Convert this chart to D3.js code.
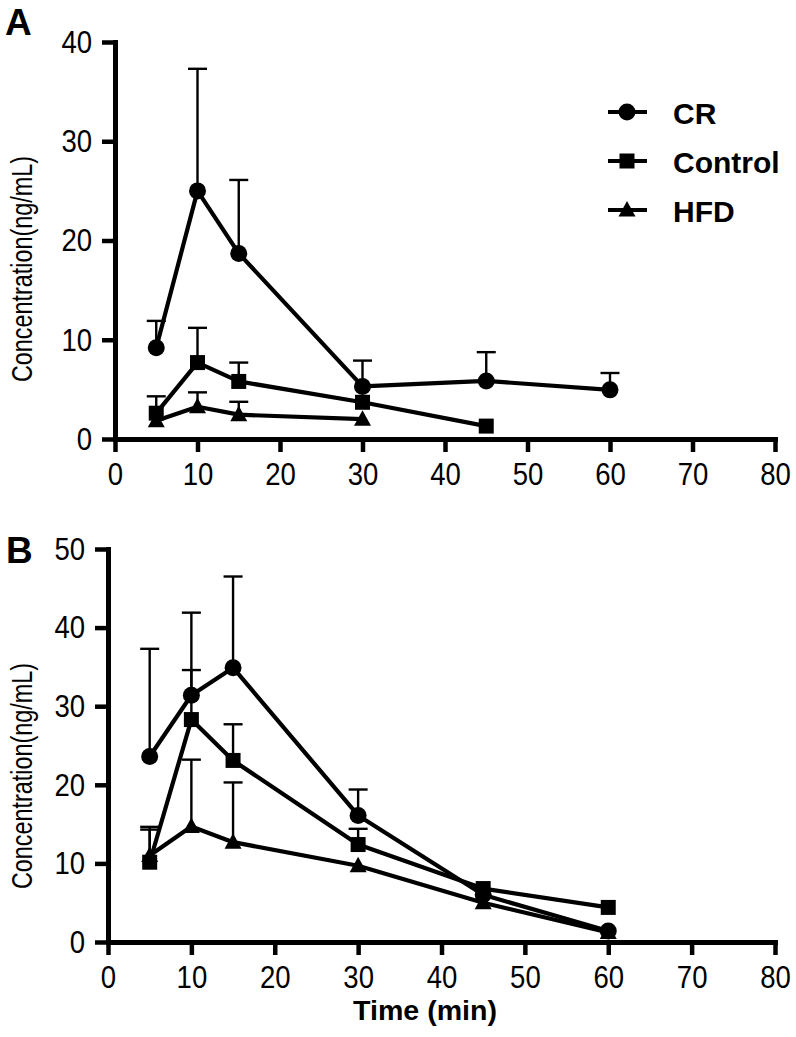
<!DOCTYPE html>
<html><head><meta charset="utf-8">
<script src="https://cdn.jsdelivr.net/npm/d3@7"></script>
<style>
body{margin:0;background:#fff;}
svg{display:block;}
text{font-family:"Liberation Sans",Arial,Helvetica,sans-serif;fill:#000;}
</style></head>
<body>
<svg id="chart" width="796" height="1037"></svg>
<script>
// ---- data ----
const times = [5, 10, 15, 30, 45, 60];
const seriesNames = ["CR", "Control", "HFD"];
const xTicks = [0, 10, 20, 30, 40, 50, 60, 70, 80];
const yTicksA = [0, 10, 20, 30, 40];
const yTicksB = [0, 10, 20, 30, 40, 50];

// Panel A
const crA       = [9.2, 25.0, 18.7, 5.3, 5.85, 4.95];
const crAErr    = [2.7, 12.3, 7.4, 2.6, 2.9, 1.7];
const controlA    = [2.6, 7.7, 5.8, 3.7, 1.3, null];
const controlAErr = [1.7, 3.5, 1.9, null, null, null];
const hfdA      = [1.85, 3.25, 2.45, 2.0, null, null];
const hfdAErr   = [null, 1.45, 1.3, null, null, null];

// Panel B
const crB       = [23.6, 31.4, 34.9, 16.1, 6.0, 1.4];
const crBErr    = [13.7, 10.5, 11.6, 3.3, null, null];
const controlB    = [10.15, 28.3, 23.1, 12.4, 6.8, 4.4];
const controlBErr = [4.5, 6.3, 4.6, 2.0, null, null];
const hfdB      = [11.0, 14.7, 12.7, 9.7, 5.0, 1.2];
const hfdBErr   = [3.3, 8.5, 7.6, null, null, null];

const svg = d3.select("#chart");

const symbolPath = {
  CR: "M-8.5,0A8.5,8.5 0 1,0 8.5,0A8.5,8.5 0 1,0 -8.5,0Z",
  Control: "M-7.5,-7.5H7.5V7.5H-7.5Z",
  HFD: "M0,-9L8.5,6.5H-8.5Z"
};

function condense(sel, factor) {
  sel.each(function () {
    const w = this.getComputedTextLength();
    d3.select(this).attr("textLength", w * factor).attr("lengthAdjust", "spacingAndGlyphs");
  });
}

function buildPanel(cfg) {
  const x = d3.scaleLinear().domain([0, 80]).range(cfg.xRange);
  const y = d3.scaleLinear().domain(cfg.yDomain).range(cfg.yRange);
  const g = svg.append("g");

  // axes
  const ax = g.append("g").attr("transform", `translate(0,${cfg.yRange[0]})`)
    .call(d3.axisBottom(x).tickValues(xTicks).tickSize(13).tickSizeOuter(0).tickPadding(10));
  const ay = g.append("g").attr("transform", `translate(${cfg.xRange[0]},0)`)
    .call(d3.axisLeft(y).tickValues(cfg.yTicks).tickSize(13).tickSizeOuter(0).tickPadding(10));
  [ax, ay].forEach(a => {
    a.select(".domain").attr("stroke", "#000").attr("stroke-width", 5).attr("stroke-linecap", "square");
    a.selectAll(".tick line").attr("stroke", "#000").attr("stroke-width", 4.5);
    a.selectAll(".tick text").style("font-size", "32px").attr("fill", "#000");
    condense(a.selectAll(".tick text"), 0.86);
  });

  const series = [
    { name: "CR", v: cfg.cr, e: cfg.crErr },
    { name: "Control", v: cfg.control, e: cfg.controlErr },
    { name: "HFD", v: cfg.hfd, e: cfg.hfdErr }
  ];

  // error bars
  series.forEach(s => {
    times.forEach((t, i) => {
      if (s.v[i] == null || s.e[i] == null) return;
      const px = x(t), y0 = y(s.v[i]), y1 = y(s.v[i] + s.e[i]);
      g.append("line").attr("x1", px).attr("x2", px).attr("y1", y0).attr("y2", y1)
        .attr("stroke", "#000").attr("stroke-width", 2.4);
      g.append("line").attr("x1", px - 9.5).attr("x2", px + 9.5).attr("y1", y1).attr("y2", y1)
        .attr("stroke", "#000").attr("stroke-width", 2.4);
    });
  });

  // lines
  const line = d3.line().defined(d => d.v != null).x(d => x(d.t)).y(d => y(d.v));
  series.forEach(s => {
    const pts = times.map((t, i) => ({ t, v: s.v[i] }));
    g.append("path").datum(pts).attr("d", line).attr("fill", "none")
      .attr("stroke", "#000").attr("stroke-width", 4.2).attr("stroke-linejoin", "round");
  });

  // markers
  series.forEach(s => {
    times.forEach((t, i) => {
      if (s.v[i] == null) return;
      g.append("path").attr("d", symbolPath[s.name])
        .attr("transform", `translate(${x(t)},${y(s.v[i])})`).attr("fill", "#000");
    });
  });

  // y label
  g.append("text")
    .attr("transform", `translate(${cfg.yLabelX},${cfg.yLabelY}) rotate(-90)`)
    .attr("text-anchor", "middle")
    .style("font-size", "29px")
    .attr("textLength", 226).attr("lengthAdjust", "spacingAndGlyphs")
    .text("Concentration(ng/mL)");

  // panel letter
  g.append("text").attr("x", cfg.letterX).attr("y", cfg.letterY)
    .style("font-size", "37px").style("font-weight", "bold").text(cfg.letter);

  return { x, y, g };
}

const A = buildPanel({
  xRange: [115, 775], yDomain: [0, 40], yRange: [439, 42], yTicks: yTicksA,
  cr: crA, crErr: crAErr, control: controlA, controlErr: controlAErr, hfd: hfdA, hfdErr: hfdAErr,
  yLabelX: 32, yLabelY: 269, letter: "A", letterX: 5, letterY: 35
});

const B = buildPanel({
  xRange: [108, 775], yDomain: [0, 50], yRange: [942, 549], yTicks: yTicksB,
  cr: crB, crErr: crBErr, control: controlB, controlErr: controlBErr, hfd: hfdB, hfdErr: hfdBErr,
  yLabelX: 32, yLabelY: 776, letter: "B", letterX: 6, letterY: 563
});

// legend
const legendY = [112, 161, 210];
seriesNames.forEach((name, i) => {
  const lg = svg.append("g").attr("transform", `translate(627,${legendY[i]})`);
  lg.append("line").attr("x1", -19).attr("x2", 20).attr("y1", 0).attr("y2", 0)
    .attr("stroke", "#000").attr("stroke-width", 4);
  lg.append("path").attr("d", symbolPath[name]).attr("fill", "#000");
  lg.append("text").attr("x", 46).attr("y", 12)
    .style("font-size", "30px").style("font-weight", "bold").text(name);
});

// x axis title
svg.append("text").attr("x", 425).attr("y", 1020).attr("text-anchor", "middle")
  .style("font-size", "27px").style("font-weight", "bold")
  .attr("textLength", 144).attr("lengthAdjust", "spacingAndGlyphs")
  .text("Time (min)");
</script>
</body></html>
